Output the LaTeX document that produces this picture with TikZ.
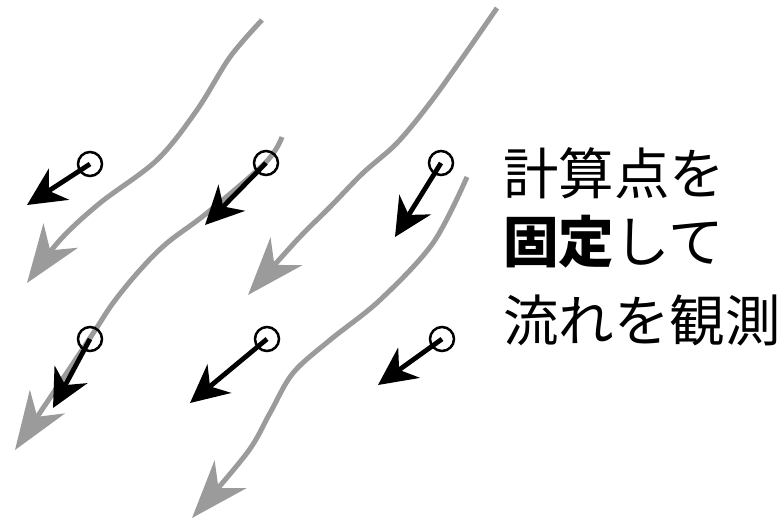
\documentclass[tikz,border=0pt]{standalone}
\usepackage{fontspec}
\newfontfamily\cjk{Noto Sans CJK JP}
\usetikzlibrary{arrows.meta}
\definecolor{streamgray}{RGB}{155,155,155}
\tikzset{
  stream/.style={draw=streamgray, line width=5pt, line cap=butt,
    -{Stealth[length=58pt, width=42pt, inset=18pt]}},
  probe/.style={circle, draw=black, line width=2.5pt, minimum size=24pt, inner sep=0pt, fill=none},
  velocity/.style={draw=black, line width=4.8pt,
    -{Stealth[length=38pt, width=37pt, inset=12pt]}},
  label/.style={anchor=base west, inner sep=0pt, font=\cjk\fontsize{55.5pt}{60pt}\selectfont}
}
\begin{document}
\begin{tikzpicture}[x=1pt, y=-1pt]
\useasboundingbox (0,0) rectangle (783,524);
% streamlines
\draw[stream] plot[smooth, tension=0.55] coordinates {(262,20) (230,57) (197,110) (157,160) (100,203) (60,240) (27,283)};
\draw[stream] plot[smooth, tension=0.55] coordinates {(282,137) (266,162) (207,213) (167,243) (140,270) (113,303) (90,338) (15,450)};
\draw[stream] plot[smooth, tension=0.55] coordinates {(497,8) (463,57) (430,103) (397,143) (363,173) (330,207) (297,240) (248,295)};
\draw[stream] plot[smooth, tension=0.55] coordinates {(467,177) (433,243) (380,300) (330,340) (293,373) (270,413) (247,453) (192,518)};
% probes
\node[probe] (c1) at (90,164) {};
\node[probe] (c2) at (266,163) {};
\node[probe] (c3) at (441,163) {};
\node[probe] (c4) at (90,339) {};
\node[probe] (c5) at (267,339) {};
\node[probe] (c6) at (442,339) {};
\coordinate (t1) at (27,205);
\coordinate (t2) at (205,225);
\coordinate (t3) at (395,237);
\coordinate (t4) at (53,408);
\coordinate (t5) at (190,403);
\coordinate (t6) at (378,385);
\draw[velocity] (c1.center) -- (t1);
\draw[velocity] (c2.center) -- (t2);
\draw[velocity] (c3.center) -- (t3);
\draw[velocity] (c4.center) -- (t4);
\draw[velocity] (c5.center) -- (t5);
\draw[velocity] (c6.center) -- (t6);
% text
\node[label] (l1) at (503,194) {計算点を};
\node[label] (l2) at (503,262) {\bfseries 固定\mdseries して};
\node[label] (l3) at (503,341) {流れを観測};
\end{tikzpicture}
\end{document}
